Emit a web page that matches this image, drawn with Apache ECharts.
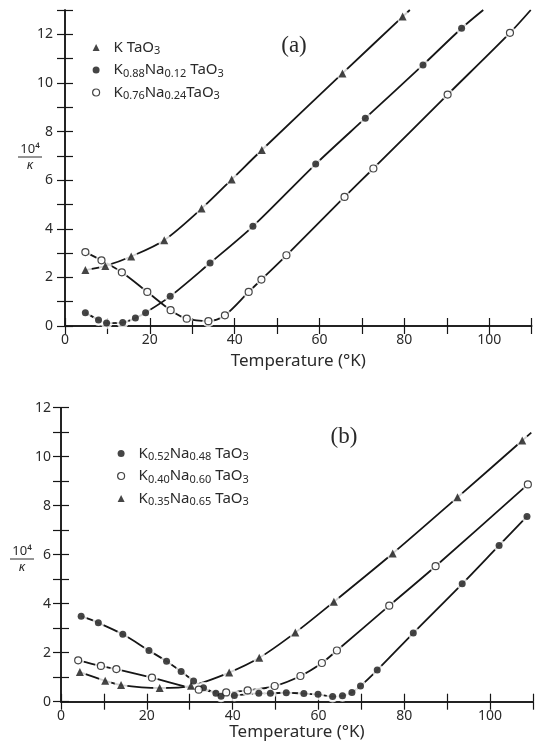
<!DOCTYPE html>
<html>
<head>
<meta charset="utf-8">
<title>Inverse dielectric constant vs temperature, KTaO3–NaTaO3</title>
<script src="https://cdn.jsdelivr.net/npm/echarts@6/dist/echarts.min.js"></script>
<style>
  html, body { margin: 0; padding: 0; background: #fff; }
  #chart { width: 536px; height: 742px; }
</style>
</head>
<body>
<div id="chart"></div>
<script>
// ---- Panel (a): 10^4/kappa vs temperature (K) ----
const tempKTaO3 = [4.8, 9.5, 15.6, 23.4, 32.2, 39.3, 46.4, 65.4, 79.6];
const invKTaO3  = [2.30, 2.47, 2.86, 3.53, 4.83, 6.03, 7.24, 10.39, 12.73];
const tailKTaO3 = [81.3, 13.0];

const tempK88 = [4.8, 7.9, 9.8, 13.6, 16.6, 19.0, 24.8, 34.2, 44.3, 59.1, 70.8, 84.4, 93.5];
const invK88  = [0.55, 0.25, 0.12, 0.14, 0.33, 0.55, 1.22, 2.59, 4.10, 6.66, 8.55, 10.74, 12.25];
const tailK88 = [98.6, 13.0];

const tempK76 = [4.8, 8.6, 13.4, 19.4, 24.9, 28.7, 33.8, 37.7, 43.3, 46.3, 52.2, 65.9, 72.7, 90.2, 104.9];
const invK76  = [3.04, 2.70, 2.21, 1.40, 0.65, 0.30, 0.20, 0.44, 1.40, 1.91, 2.91, 5.31, 6.48, 9.52, 12.06];
const tailK76 = [109.8, 13.0];

// ---- Panel (b) ----
const tempK52 = [4.7, 8.7, 14.4, 20.5, 24.6, 28.0, 30.9, 33.2, 36.1, 37.3, 40.4, 46.1, 48.8, 52.5, 56.6, 59.9, 63.3, 65.6, 67.8, 69.8, 73.7, 82.1, 93.5, 102.1, 108.6];
const invK52  = [3.49, 3.22, 2.75, 2.09, 1.65, 1.23, 0.85, 0.57, 0.34, 0.22, 0.25, 0.34, 0.34, 0.37, 0.33, 0.30, 0.21, 0.24, 0.38, 0.64, 1.29, 2.80, 4.81, 6.38, 7.56];

const tempK40 = [4.0, 9.3, 12.9, 21.2, 32.1, 38.5, 43.5, 49.8, 55.8, 60.8, 64.3, 76.5, 87.3, 108.8];
const invK40  = [1.69, 1.46, 1.33, 0.98, 0.49, 0.38, 0.46, 0.64, 1.05, 1.58, 2.09, 3.92, 5.53, 8.87];

const tempK35 = [4.4, 10.3, 14.0, 23.0, 30.3, 39.2, 46.2, 54.6, 63.6, 77.3, 92.4, 107.5];
const invK35  = [1.21, 0.86, 0.68, 0.56, 0.65, 1.19, 1.79, 2.82, 4.08, 6.05, 8.34, 10.66];
const tailK35 = [109.6, 10.98];

// ---- Axis ranges and tick labels ----
const tempMax = 110;
const invMaxA = 13;
const invMaxB = 12;
const tempTickLabels = [0, 20, 40, 60, 80, 100];
const invTickLabels = [0, 2, 4, 6, 8, 10, 12];

// Compositions (subscripts written as _{...})
const nameKTaO3 = 'K TaO_{3}';
const nameK88 = 'K_{0.88}Na_{0.12} TaO_{3}';
const nameK76 = 'K_{0.76}Na_{0.24}TaO_{3}';
const nameK52 = 'K_{0.52}Na_{0.48} TaO_{3}';
const nameK40 = 'K_{0.40}Na_{0.60} TaO_{3}';
const nameK35 = 'K_{0.35}Na_{0.65} TaO_{3}';

const INK = '#161616';
const TEXT = '#2a2a2a';
const FONT = '"Noto Sans", "DejaVu Sans", sans-serif';

function pairs(xs, ys) { return xs.map((x, i) => [x, ys[i]]); }

function toRich(name) {
  const out = [];
  const re = /_\{([^}]*)\}/g;
  let last = 0, m;
  while ((m = re.exec(name)) !== null) {
    if (m.index > last) out.push('{n|' + name.slice(last, m.index) + '}');
    out.push('{s|' + m[1] + '}');
    last = re.lastIndex;
  }
  if (last < name.length) out.push('{n|' + name.slice(last) + '}');
  return out.join('');
}

const richStyles = {
  n: { fontSize: 15, lineHeight: 18, fontFamily: FONT, color: TEXT },
  s: { fontSize: 11, lineHeight: 10, fontFamily: FONT, color: TEXT, verticalAlign: 'bottom' }
};

const filledStyle = { color: INK };
const openStyle = { color: '#fff', borderColor: INK, borderWidth: 1.2 };

// One curve = smooth guide line + white halo (breaks line at markers) + markers
function curve(name, xs, ys, tail, symbol, filled, xi, yi) {
  const pts = pairs(xs, ys);
  const linePts = tail ? pts.concat([tail]) : pts;
  const size = symbol === 'triangle' ? 8 : 7;
  return [
    {
      type: 'line', xAxisIndex: xi, yAxisIndex: yi, data: linePts,
      smooth: 0.3, showSymbol: false, silent: true, z: 2,
      lineStyle: { color: INK, width: 1.8 }
    },
    {
      type: 'scatter', xAxisIndex: xi, yAxisIndex: yi, data: pts,
      symbol: 'circle', symbolSize: size + 5, silent: true, z: 3,
      itemStyle: { color: '#fff' }
    },
    {
      name: name, type: 'scatter', xAxisIndex: xi, yAxisIndex: yi, data: pts,
      symbol: symbol === 'open' ? 'circle' : symbol, symbolSize: size, z: 4,
      itemStyle: filled ? filledStyle : openStyle
    }
  ];
}

function xAxes(gridIndex) {
  const line = { show: true, lineStyle: { color: INK, width: 1.5 } };
  const tick = { show: true, inside: true, length: 8, lineStyle: { color: INK, width: 1.2 } };
  return [
    {
      gridIndex, type: 'value', min: 0, max: tempMax, interval: 10, position: 'bottom',
      axisLine: line, axisTick: tick, splitLine: { show: false },
      axisLabel: {
        margin: 7, fontSize: 14, fontFamily: FONT, color: TEXT, showMaxLabel: true,
        formatter: v => tempTickLabels.includes(v) ? String(v) : ''
      },
      name: 'Temperature (°K)', nameLocation: 'middle', nameGap: gridIndex === 0 ? 27 : 21,
      nameTextStyle: { fontSize: 17, fontFamily: FONT, color: TEXT }
    },
    {
      gridIndex, type: 'value', min: 0, max: tempMax, interval: 10, position: 'top',
      axisLine: line, axisTick: tick, axisLabel: { show: false }, splitLine: { show: false }
    }
  ];
}

function yAxes(gridIndex, max, margin) {
  const line = { show: true, lineStyle: { color: INK, width: 1.5 } };
  const tick = { show: true, inside: true, length: 8, lineStyle: { color: INK, width: 1.2 } };
  return [
    {
      gridIndex, type: 'value', min: 0, max: max, interval: 1, position: 'left',
      axisLine: line, axisTick: tick, splitLine: { show: false },
      axisLabel: {
        margin: margin, fontSize: 14, fontFamily: FONT, color: TEXT,
        formatter: v => invTickLabels.includes(v) ? String(v) : ''
      }
    },
    {
      gridIndex, type: 'value', min: 0, max: max, interval: 1, position: 'right',
      axisLine: line, axisTick: tick, axisLabel: { show: false }, splitLine: { show: false }
    }
  ];
}

function legendFor(names, left, top, symbols) {
  return {
    orient: 'vertical', left: left, top: top, itemGap: 6,
    itemWidth: 7, itemHeight: 7, selectedMode: false,
    data: names.map((n, i) => ({
      name: n,
      icon: symbols[i] === 'open' ? 'circle' : symbols[i],
      itemStyle: symbols[i] === 'open' ? openStyle : filledStyle
    })),
    formatter: toRich,
    textStyle: { padding: [0, 0, 0, 9], rich: richStyles }
  };
}

function fraction(cx, yTop, yBar, yKappa, halfW) {
  return [
    { type: 'text', x: cx, y: yTop, style: { text: '10⁴', font: '13px ' + FONT, fill: TEXT, align: 'center', verticalAlign: 'middle' } },
    { type: 'line', shape: { x1: cx - halfW, y1: yBar, x2: cx + halfW, y2: yBar }, style: { stroke: TEXT, lineWidth: 1 } },
    { type: 'text', x: cx, y: yKappa, style: { text: 'κ', font: 'italic 13px ' + FONT, fill: TEXT, align: 'center', verticalAlign: 'middle' } }
  ];
}

const chart = echarts.init(document.getElementById('chart'), null, { renderer: 'canvas' });

chart.setOption({
  backgroundColor: '#fff',
  animation: false,
  grid: [
    { left: 65, top: 10, width: 466.6, height: 316 },
    { left: 61, top: 407.7, width: 479.6, height: 294 }
  ],
  xAxis: xAxes(0).concat(xAxes(1)),
  yAxis: yAxes(0, invMaxA, 12).concat(yAxes(1, invMaxB, 10)),
  legend: [
    legendFor([nameKTaO3, nameK88, nameK76], 87, 35, ['triangle', 'circle', 'open']),
    legendFor([nameK52, nameK40, nameK35], 112, 441, ['circle', 'open', 'triangle'])
  ],
  series: [].concat(
    curve(nameKTaO3, tempKTaO3, invKTaO3, tailKTaO3, 'triangle', true, 0, 0),
    curve(nameK88, tempK88, invK88, tailK88, 'circle', true, 0, 0),
    curve(nameK76, tempK76, invK76, tailK76, 'open', false, 0, 0),
    curve(nameK52, tempK52, invK52, null, 'circle', true, 2, 2),
    curve(nameK40, tempK40, invK40, null, 'open', false, 2, 2),
    curve(nameK35, tempK35, invK35, tailK35, 'triangle', true, 2, 2)
  ),
  graphic: [
    { type: 'text', x: 294, y: 46, style: { text: '(a)', font: '23px "Liberation Serif", "DejaVu Serif", serif', fill: TEXT, align: 'center', verticalAlign: 'middle' } },
    { type: 'text', x: 344, y: 437, style: { text: '(b)', font: '23px "Liberation Serif", "DejaVu Serif", serif', fill: TEXT, align: 'center', verticalAlign: 'middle' } }
  ].concat(fraction(30, 149, 157, 165, 12), fraction(22, 551, 559, 567, 12))
});
</script>
</body>
</html>
